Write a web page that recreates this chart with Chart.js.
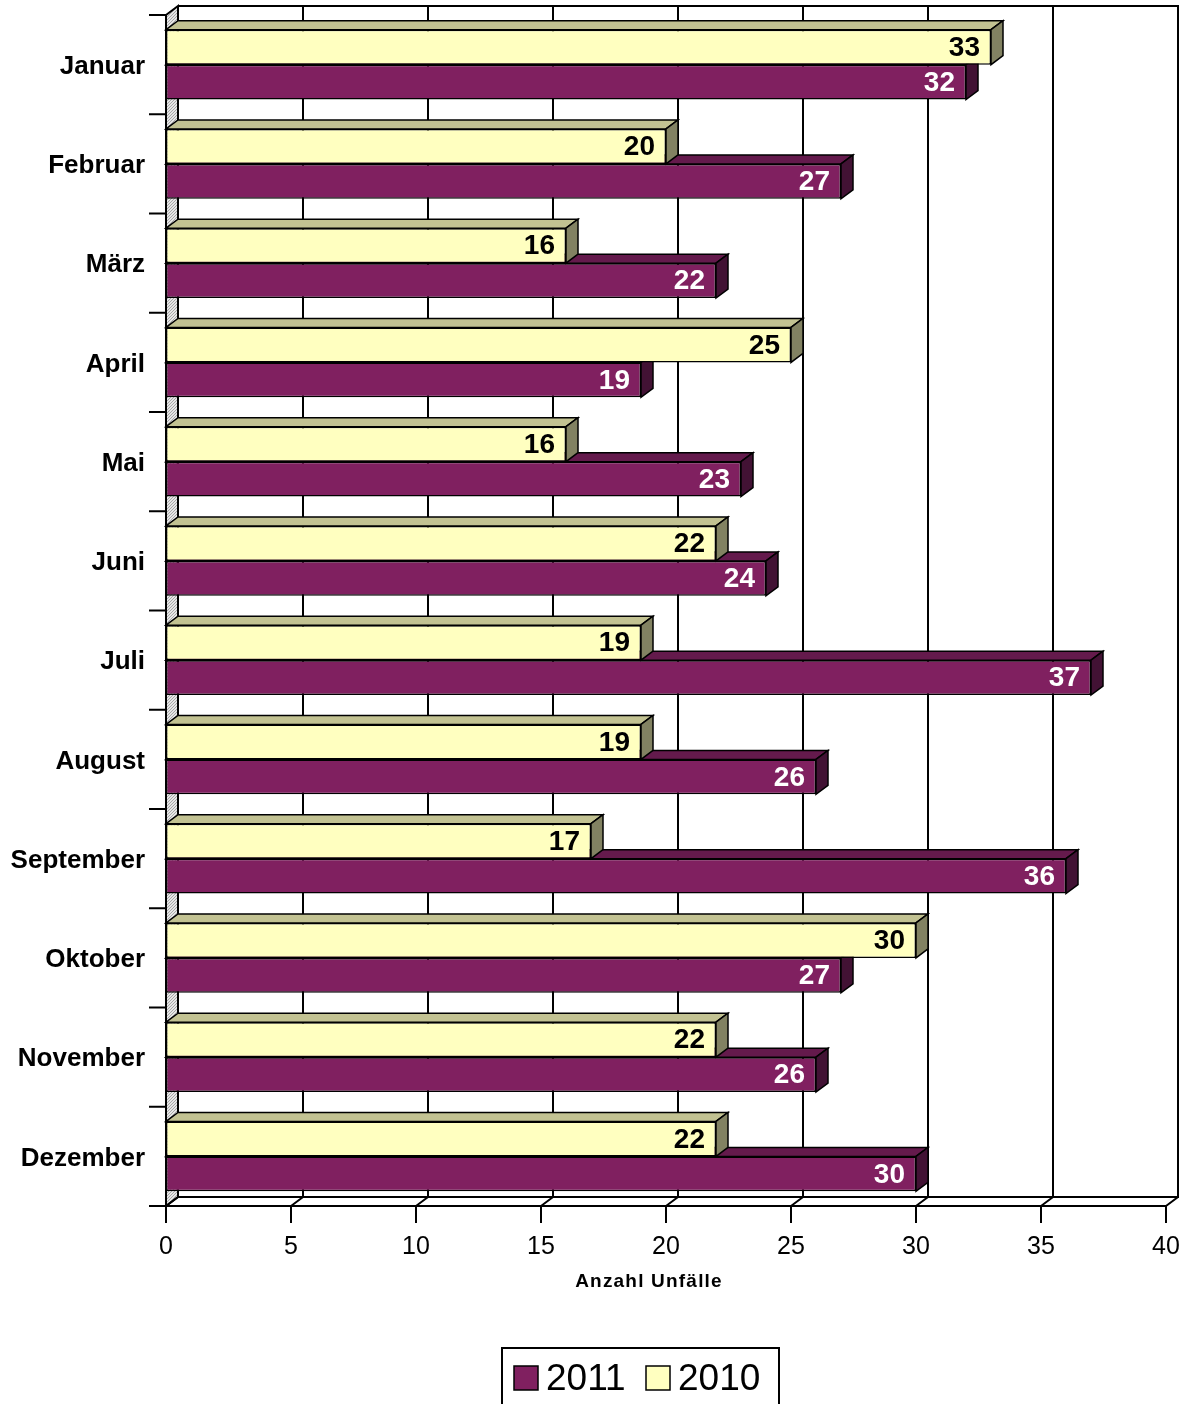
<!DOCTYPE html>
<html>
<head>
<meta charset="utf-8">
<script src="https://cdn.jsdelivr.net/npm/chart.js@4.4.1/dist/chart.umd.min.js"></script>
<style>
  html, body { margin: 0; padding: 0; background: #ffffff; }
  #wrap { width: 1192px; height: 1404px; position: relative; }
</style>
</head>
<body>
<div id="wrap"><canvas id="c" width="1192" height="1404"></canvas></div>
<script>
const months = ['Januar','Februar','März','April','Mai','Juni','Juli','August','September','Oktober','November','Dezember'];
const values2011 = [32, 27, 22, 19, 23, 24, 37, 26, 36, 27, 26, 30];
const values2010 = [33, 20, 16, 25, 16, 22, 19, 19, 17, 30, 22, 22];
const xTicks = [0, 5, 10, 15, 20, 25, 30, 35, 40];
const axisTitle = 'Anzahl Unfälle';
const legendLabels = ['2011', '2010'];

const COL = {
  y2010: { front: '#FFFFC0', top: '#C2C292', side: '#828262', text: '#000000' },
  y2011: { front: '#802060', top: '#641A4C', side: '#421234', text: '#FFFFFF' }
};
const DX = 12, DY = 9;
const FONT = 'Arial, "Liberation Sans", sans-serif';

function wallPattern(ctx) {
  const p = document.createElement('canvas');
  p.width = 3; p.height = 3;
  const g = p.getContext('2d');
  g.fillStyle = '#e6e6e6'; g.fillRect(0, 0, 3, 3);
  g.fillStyle = '#a8a8a8';
  g.fillRect(0, 0, 1, 1); g.fillRect(2, 1, 1, 1); g.fillRect(1, 2, 1, 1);
  return ctx.createPattern(p, 'repeat');
}

function poly(ctx, pts, fill) {
  ctx.beginPath();
  ctx.moveTo(pts[0][0], pts[0][1]);
  for (let i = 1; i < pts.length; i++) ctx.lineTo(pts[i][0], pts[i][1]);
  ctx.closePath();
  if (fill) { ctx.fillStyle = fill; ctx.fill(); }
  ctx.stroke();
}

const threeD = {
  id: 'threeD',
  beforeDatasetsDraw(chart) {
    const ctx = chart.ctx;
    const a = chart.chartArea;
    const xs = chart.scales.x;
    ctx.save();
    ctx.strokeStyle = '#000';
    ctx.lineWidth = 2;
    ctx.lineJoin = 'miter';
    // left wall
    poly(ctx, [[a.left, a.top], [a.left + DX, a.top - DY], [a.left + DX, a.bottom - DY], [a.left, a.bottom]], wallPattern(ctx));
    // back wall outline
    ctx.beginPath();
    ctx.moveTo(a.left + DX, a.top - DY);
    ctx.lineTo(a.right + DX, a.top - DY);
    ctx.lineTo(a.right + DX, a.bottom - DY);
    ctx.lineTo(a.left + DX, a.bottom - DY);
    ctx.stroke();
    // back wall gridlines + floor diagonals + ticks
    xTicks.forEach(v => {
      const px = xs.getPixelForValue(v);
      ctx.beginPath();
      ctx.moveTo(px + DX, a.top - DY);
      ctx.lineTo(px + DX, a.bottom - DY);
      ctx.lineTo(px, a.bottom);
      ctx.stroke();
      ctx.beginPath();
      ctx.moveTo(px, a.bottom);
      ctx.lineTo(px, a.bottom + 17);
      ctx.stroke();
    });
    // front floor edge
    ctx.beginPath();
    ctx.moveTo(a.left, a.bottom);
    ctx.lineTo(a.right, a.bottom);
    ctx.stroke();
    // category ticks
    for (let k = 0; k <= months.length; k++) {
      const py = a.top + (a.bottom - a.top) * k / months.length;
      ctx.beginPath();
      ctx.moveTo(a.left - 17, py);
      ctx.lineTo(a.left, py);
      ctx.stroke();
    }
    // 3D faces: 2011 (lower bar) first, then 2010
    ctx.lineWidth = 1.5;
    [1, 0].forEach(di => {
      const meta = chart.getDatasetMeta(di);
      const c = di === 0 ? COL.y2010 : COL.y2011;
      meta.data.forEach(bar => {
        const x0 = bar.base, x1 = bar.x;
        const yT = bar.y - bar.height / 2, yB = bar.y + bar.height / 2;
        poly(ctx, [[x0, yT], [x0 + DX, yT - DY], [x1 + DX, yT - DY], [x1, yT]], c.top);
        poly(ctx, [[x1, yT], [x1 + DX, yT - DY], [x1 + DX, yB - DY], [x1, yB]], c.side);
      });
    });
    ctx.restore();
  },
  afterDatasetsDraw(chart) {
    const ctx = chart.ctx;
    const a = chart.chartArea;
    ctx.save();
    ctx.strokeStyle = '#000';
    ctx.lineWidth = 2;
    ctx.beginPath();
    ctx.moveTo(a.left, a.top);
    ctx.lineTo(a.left, a.bottom);
    ctx.stroke();
    // value labels
    ctx.textAlign = 'right';
    ctx.textBaseline = 'middle';
    ctx.font = 'bold 28px ' + FONT;
    [0, 1].forEach(di => {
      const meta = chart.getDatasetMeta(di);
      const ds = chart.data.datasets[di];
      const c = di === 0 ? COL.y2010 : COL.y2011;
      ctx.fillStyle = c.text;
      meta.data.forEach((bar, i) => {
        ctx.fillText(String(ds.data[i]), bar.x - 11, bar.y + 1);
      });
    });
    // axis title
    ctx.fillStyle = '#000';
    ctx.textAlign = 'center';
    ctx.font = 'bold 19px ' + FONT;
    try { ctx.letterSpacing = '1.2px'; } catch (e) {}
    ctx.fillText(axisTitle, 649, 1282);
    try { ctx.letterSpacing = '0px'; } catch (e) {}
    // legend
    ctx.lineWidth = 2;
    ctx.strokeRect(502, 1348, 277, 70);
    const items = [
      { label: legendLabels[0], color: COL.y2011.front, bx: 514, tx: 546 },
      { label: legendLabels[1], color: COL.y2010.front, bx: 646, tx: 678 }
    ];
    ctx.textAlign = 'left';
    ctx.textBaseline = 'alphabetic';
    ctx.font = '37px ' + FONT;
    items.forEach(it => {
      ctx.fillStyle = it.color;
      ctx.fillRect(it.bx, 1366, 24, 24);
      ctx.lineWidth = 1.5;
      ctx.strokeRect(it.bx, 1366, 24, 24);
      ctx.fillStyle = '#000';
      ctx.fillText(it.label, it.tx, 1390);
    });
    ctx.restore();
  }
};

new Chart(document.getElementById('c'), {
  type: 'bar',
  data: {
    labels: months,
    datasets: [
      { label: '2010', data: values2010, backgroundColor: COL.y2010.front },
      { label: '2011', data: values2011, backgroundColor: COL.y2011.front }
    ]
  },
  options: {
    indexAxis: 'y',
    responsive: false,
    animation: false,
    devicePixelRatio: 1,
    layout: { padding: { top: 15, right: 26, left: 0, bottom: 0 } },
    datasets: {
      bar: {
        categoryPercentage: 0.705,
        barPercentage: 1.0,
        borderColor: '#000',
        borderWidth: 1.5,
        borderSkipped: false
      }
    },
    plugins: {
      legend: { display: false },
      tooltip: { enabled: false }
    },
    scales: {
      x: {
        type: 'linear',
        min: 0, max: 40,
        afterBuildTicks(s) { s.ticks = xTicks.map(v => ({ value: v })); },
        afterFit(s) { s.height = 198; s.paddingLeft = 0; s.paddingRight = 0; },
        grid: { display: false, drawTicks: false },
        border: { display: false },
        ticks: { color: '#000', font: { family: FONT, size: 25 }, padding: 26, maxRotation: 0 }
      },
      y: {
        type: 'category',
        afterFit(s) { s.width = 166; s.paddingTop = 0; s.paddingBottom = 0; },
        grid: { display: false, drawTicks: false },
        border: { display: false },
        ticks: { color: '#000', font: { family: FONT, size: 26, weight: 'bold' }, padding: 21, labelOffset: 2 }
      }
    }
  },
  plugins: [threeD]
});
</script>
</body>
</html>
